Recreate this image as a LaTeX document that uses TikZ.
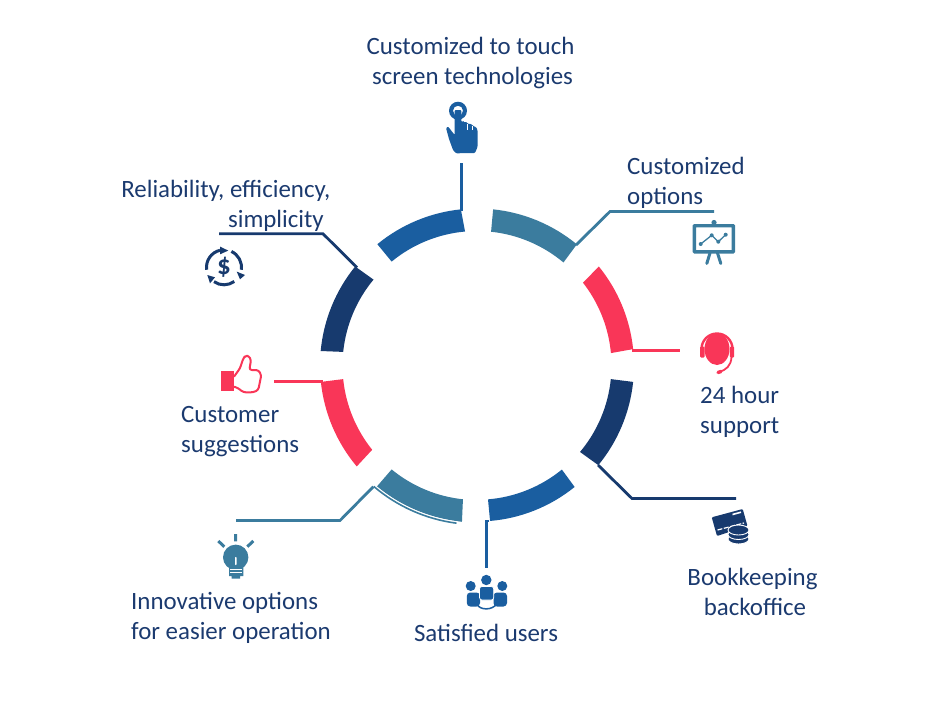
\documentclass[tikz,border=0pt]{standalone}
\usepackage{fontspec}
\setmainfont[Ligatures=Common]{Carlito}
\usetikzlibrary{arrows.meta}
\definecolor{cblue}{HTML}{1A5EA0}
\definecolor{cteal}{HTML}{3B7C9E}
\definecolor{cred}{HTML}{F93658}
\definecolor{cnavy}{HTML}{173A6E}
\definecolor{ctext}{HTML}{1B3A6F}
\tikzset{
  lbl/.style={text=ctext,inner sep=0pt,font=\fontsize{24.9}{30}\selectfont},
  leader/.style={line width=2.8pt,line cap=butt,line join=miter},
  iconline/.style={line width=#1,line cap=round,line join=round},
}
\newcommand{\ringseg}[5]{%
  \fill[#1,shift={(477,365.5)}] (#2:157pt) arc[start angle=#2,end angle=#3,radius=157pt]
     -- (#5:134.5pt) arc[start angle=#5,end angle=#4,radius=134.5pt] -- cycle;}
\begin{document}
\begin{tikzpicture}[x=1pt,y=-1pt]
\useasboundingbox (0,0) rectangle (947,710);
% ring segments
\ringseg{cblue}{95.9}{129.4}{95.1}{129.4}
\ringseg{cteal}{84.1}{50.5}{84}{50}
\ringseg{cred}{39.1}{6}{38}{5.3}
\ringseg{cnavy}{-6}{-39.4}{-5.8}{-40}
\fill[cblue,shift={(477,365.5)}] (-85.2:156pt) arc[start angle=-85.2,end angle=-51,radius=155pt]
     -- (-50.8:134.3pt) arc[start angle=-50.8,end angle=-85.3,radius=134.3pt] -- cycle;
\ringseg{cteal}{-95.5}{-129.6}{-96}{-129.4}
\ringseg{cred}{-174}{-140}{-174.2}{-141.2}
\ringseg{cnavy}{174.7}{140.9}{174.2}{140.3}
% connector points
\coordinate (t1) at (461.8,163); \coordinate (t2) at (461.8,211);
\coordinate (c1) at (714,211.5); \coordinate (c2) at (610,211.5); \coordinate (c3) at (576,245);
\coordinate (s1) at (632,350.8); \coordinate (s2) at (680,350.8);
\coordinate (b1) at (598,465); \coordinate (b2) at (632,498.5); \coordinate (b3) at (736,498.5);
\coordinate (u1) at (489,521); \coordinate (u2) at (486.5,521); \coordinate (u3) at (486.5,568);
\coordinate (i1) at (236,520.5); \coordinate (i2) at (340,520.5); \coordinate (i3) at (373.3,486.7);
\coordinate (h1) at (274,381.5); \coordinate (h2) at (323,381.5);
\coordinate (r1) at (219,233.8); \coordinate (r2) at (323,233.8); \coordinate (r3) at (357,267.5);
% connectors
\draw[leader,cblue] (t1) -- (t2);
\draw[leader,cteal] (c1) -- (c2) -- (c3);
\draw[leader,cred] (s1) -- (s2);
\draw[leader,cnavy] (b1) -- (b2) -- (b3);
\draw[leader,cblue] (u1) -- (u2) -- (u3);
\draw[leader,cred] (h1) -- (h2);
\draw[leader,cnavy] (r1) -- (r2) -- (r3);
\draw[white,line width=1.1pt,shift={(477,365.5)}] (-130.5:157.6pt) arc[start angle=-130.5,end angle=-97,radius=157.6pt];
\draw[leader,cteal] (i1) -- (i2) -- (i3);
\draw[cteal,line width=1.6pt,shift={(477,365.5)}] (-130.5:159pt) arc[start angle=-130.5,end angle=-97.4,radius=159pt];
% labels
\node[lbl,align=center,anchor=center] (ltouch) at (470.5,62.5) {Customized to touch\\\hspace*{4pt}screen technologies};
\node[lbl,align=left,anchor=west] (lopt) at (627,182.5) {Customized\\options};
\node[lbl,align=left,anchor=west] (lsup) at (700,412) {24 hour\\support};
\node[lbl,align=center,anchor=center] (lbook) at (752.5,592) {Bookkeeping\\\hspace*{5pt}backoffice};
\node[lbl,anchor=center] (lsat) at (486,633) {Satisfied users};
\node[lbl,align=left,anchor=west] (linn) at (131,618) {Innovative options\\for easier operation};
\node[lbl,align=left,anchor=west] (lcus) at (181,431.5) {Customer\\suggestions};
\node[lbl,align=right,anchor=east] (lrel) at (330.5,205.5) {Reliability, efficiency,\\simplicity\hspace*{6.5pt}};
% hand icon
\fill[cblue,even odd rule] (458,110.7) circle[radius=9pt] (458,110.7) circle[radius=5pt];
\fill[cblue,rounded corners=1pt] (454.7,113) -- (454.7,110) -- (461.3,110) -- (461.3,122) -- (463,122)
  -- (463,122) -- (467,122) -- (467.5,124) -- (469,123.5) -- (472,124.5) -- (473,126) -- (476,127) -- (477.5,130)
  -- (477.5,147) -- (475,153) -- (456,153.3) -- (453,150) -- (449,139) -- (446,128) -- (448,126.5) -- (454.7,135) -- cycle;
\draw[white,line width=.6pt] (467.5,124) -- (467.5,130) (472.5,125.5) -- (472.5,130);
% chart icon
\draw[cteal,line width=3.4pt,rounded corners=.5pt] (694.4,225.7) rectangle (733.3,251.8);
\fill[cteal] (714,222.5) circle[radius=2.6pt];
\draw[cteal,iconline=3pt] (710,253) -- (706.8,263.5) (717.5,253) -- (720.8,263.5);
\draw[cteal,line width=1.3pt] (700.7,244) -- (711.7,235.3) -- (718.3,241.7) -- (725.7,234.7);
\foreach \p in {(700.7,244),(711.7,235.3),(718.3,241.7),(725.7,234.7)} \fill[cteal] \p circle[radius=2pt];
% headset icon
\fill[cred] (717,349) ellipse[x radius=12.5pt,y radius=16pt];
\draw[cred,line width=2.4pt] (701.5,349) arc[start angle=180,end angle=0,radius=15.5pt];
\fill[cred,rounded corners=1pt] (700,346.5) rectangle (704.5,357.5) (729.8,346.5) rectangle (734,357.5);
\draw[cred,line width=1.8pt] (731.5,357) .. controls (731,366) and (726,370) .. (719,372);
\draw[cred,iconline=3.4pt] (718,372.5) -- (721,371.5);
% card icon
\fill[cnavy,rounded corners=1pt] (711.7,517.3) -- (742.7,509) -- (747.5,526) -- (717,536) -- cycle;
\draw[white,line width=1.6pt] (732.5,514.5) -- (741,512.2);
\draw[white,line width=1.2pt,dash pattern=on 5pt off 1.5pt] (717.5,530) -- (744,523);
\foreach \yy in {539,534.5,530} {
  \fill[cnavy,draw=white,line width=.9pt] (738.5,\yy) ellipse[x radius=10.5pt,y radius=5pt];
}
% users icon
\fill[cblue] (486.3,580) circle[radius=5.2pt] (470.7,586) circle[radius=5pt] (502.3,586) circle[radius=5pt];
\fill[cblue,rounded corners=3.5pt] (466.8,592.5) rectangle (480,606.5) (493.5,592.5) rectangle (507,606.5);
\fill[cblue,draw=white,line width=.7pt,rounded corners=2.5pt] (479.5,586.5) rectangle (493.7,600);
\draw[cblue,line width=1.5pt] (476.7,604) .. controls (480,610.5) and (492,610.5) .. (496.7,604);
% bulb icon
\fill[cteal] (235.7,557.3) circle[radius=12.7pt];
\fill[cteal] (229,566) rectangle (243.3,576) (231.5,576) rectangle (240,578.5);
\fill[white,rounded corners=.7pt] (235,557) rectangle (236.5,565);
\draw[white,line width=.9pt] (230,569) -- (242,569) (230,572.5) -- (242,572.5);
\draw[cteal,line width=3pt] (235.7,534) -- (235.7,541.3) (218.3,541) -- (224.3,546.7) (253.3,541) -- (247.3,546.7);
% thumbs up icon
\fill[cred] (220.7,370.7) rectangle (234,390.7);
\draw[cred,line width=2pt,line join=round,rounded corners=2.5pt] (234,376.7) -- (240,368.3) -- (243.3,358.3) -- (245.5,355.7) -- (249,356) -- (251,360) -- (249.3,370) -- (258.3,370) -- (261.3,375) -- (258.3,390) -- (253.3,392.3) -- (243.3,392.3) -- (238,388) -- (234,386.7);
% dollar icon
\begin{scope}[shift={(224,267.3)}]
  \draw[cnavy,line width=3pt] (188:17.5pt) arc[start angle=188,end angle=103,radius=17.5pt];
  \draw[cnavy,line width=3pt] (65:17.5pt) arc[start angle=65,end angle=-8,radius=17.5pt];
  \draw[cnavy,line width=3pt] (-54:17.5pt) arc[start angle=-54,end angle=-125,radius=17.5pt];
  \fill[cnavy] (-4pt,20.7pt) -- (-4pt,13pt) -- (4.3pt,16.7pt) -- cycle;
  \fill[cnavy] (16pt,-12pt) -- (12.7pt,-4.3pt) -- (21pt,-7.7pt) -- cycle;
  \fill[cnavy] (-16.7pt,-7.7pt) -- (-14pt,-16pt) -- (-9pt,-10pt) -- cycle;
  \node[text=cnavy,inner sep=0pt,font=\bfseries\fontsize{27}{27}\selectfont] (dollar) at (0pt,0pt) {\$};
\end{scope}
\end{tikzpicture}
\end{document}
